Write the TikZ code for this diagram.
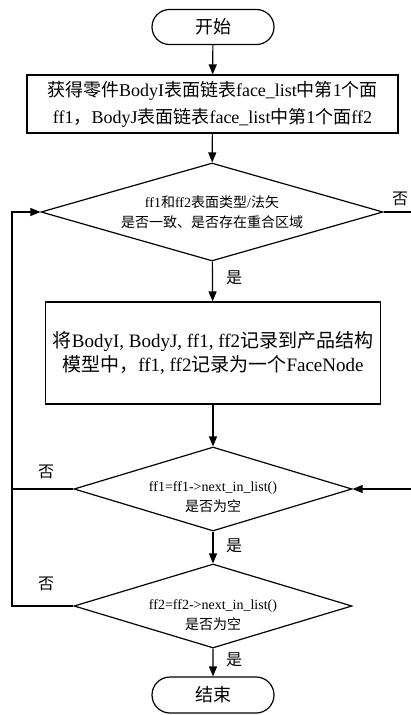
\documentclass[tikz,border=0pt]{standalone}
\usepackage{fontspec}
\setmainfont{Liberation Serif}
\newfontfamily\cjk{Noto Sans CJK SC}
\usetikzlibrary{arrows.meta,shapes.geometric,shapes.misc}
\newcommand\zh[1]{{\cjk #1}}
\begin{document}
\begin{tikzpicture}[x=1bp,y=1bp,
  line width=1.2bp,
  every node/.style={inner sep=0pt},
  term/.style={draw,rounded rectangle,minimum width=122bp,minimum height=35bp,font=\fontsize{18bp}{22bp}\selectfont},
  procbox/.style={draw,rectangle,align=center},
  decide/.style={draw,diamond,align=center,font=\fontsize{14bp}{20bp}\selectfont},
  dtext/.style={align=center,font=\fontsize{14bp}{20bp}\selectfont},
  lbl/.style={font=\fontsize{16bp}{18bp}\selectfont\cjk},
  arr/.style={-{Triangle[length=10bp,width=8bp]}}
]
\useasboundingbox (0,0) rectangle (410,-715);
\node[term] (start) at (213,-27) {\zh{开始}};
\node[procbox,minimum width=371bp,minimum height=58bp,font=\fontsize{18bp}{27bp}\selectfont] (box1) at (212.5,-104)
  {\zh{获得零件}BodyI\zh{表面链表}face\_list\zh{中第}1\zh{个面}\\ff1\zh{，}BodyJ\zh{表面链表}face\_list\zh{中第}1\zh{个面}ff2};
\node[decide,aspect=3.49,minimum width=342bp,minimum height=98bp] (d1) at (212,-212)
  {ff1\zh{和}ff2\zh{表面类型}/\zh{法矢}\\\zh{是否一致、是否存在重合区域}};
\node[procbox,minimum width=335bp,minimum height=102bp,font=\fontsize{19bp}{24bp}\selectfont] (box2) at (213,-353)
  {\zh{将}BodyI, BodyJ, ff1, ff2\zh{记录到产品结构}\\\zh{模型中，}ff1, ff2\zh{记录为一个}FaceNode};
\node[decide,aspect=3.31,minimum width=278bp,minimum height=84bp] (d2) at (213,-489) {};
\node[dtext] (d2t) at (213,-497) {ff1=ff1->next\_in\_list()\\\zh{是否为空}};
\node[decide,aspect=3.31,minimum width=278bp,minimum height=84bp] (d3) at (213,-606) {};
\node[dtext] (d3t) at (213,-615) {ff2=ff2->next\_in\_list()\\\zh{是否为空}};
\node[term,minimum height=36bp] (end) at (213,-695) {\zh{结束}};

\coordinate (r1) at (412,-212);
\coordinate (r2) at (412,-489);
\coordinate (l2) at (12,-489);
\coordinate (l3) at (12,-606);

\draw[arr] (start) -- (box1);
\draw[arr] (box1) -- (d1);
\draw[arr] (d1) -- (box2);
\draw[arr] (box2) -- (d2);
\draw[arr] (d2) -- (d3);
\draw[arr] (d3) -- (end);
\draw (d1.east) -- (r1);
\draw[arr] (r2) -- (d2.east);
\draw (d2.west) -- (l2);
\draw[arr] (d3.west) -- (l3) |- (d1.west);

\node[lbl] (no1) at (400,-199) {否};
\node[lbl] (yes1) at (234,-278) {是};
\node[lbl] (no2) at (46,-472) {否};
\node[lbl] (yes2) at (234,-546) {是};
\node[lbl] (no3) at (46,-584) {否};
\node[lbl] (yes3) at (234,-660) {是};
\end{tikzpicture}
\end{document}
